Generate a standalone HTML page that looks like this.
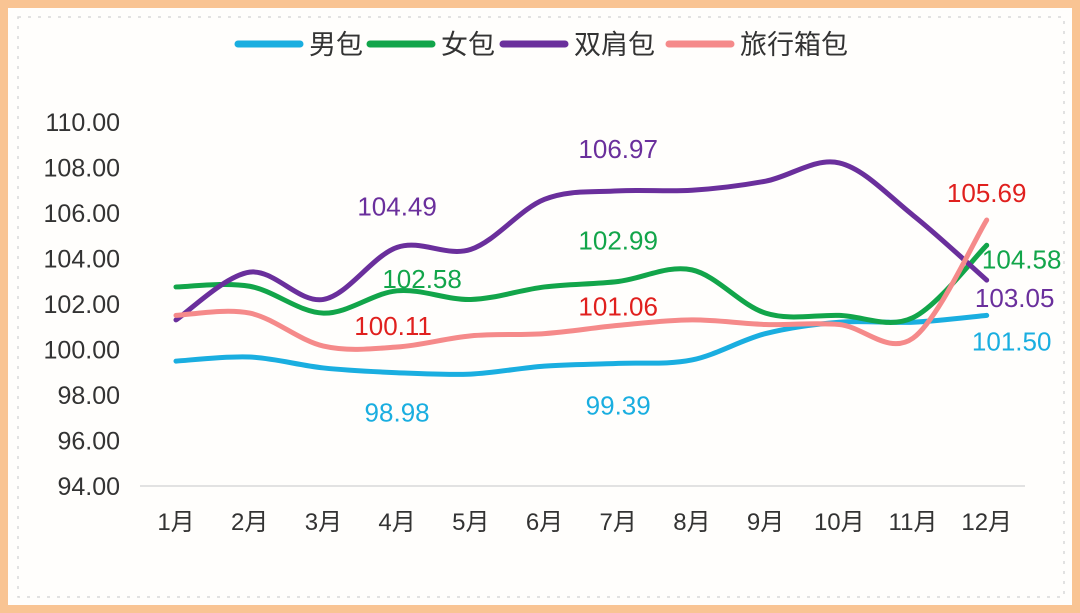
<!DOCTYPE html>
<html><head><meta charset="utf-8"><style>
body{margin:0;width:1080px;height:613px;overflow:hidden;background:#fff}
svg{display:block;font-family:"Liberation Sans","Noto Sans CJK SC",sans-serif}
</style></head><body>
<svg id="c" width="1080" height="613">
<rect x="4" y="4" width="1072" height="605" fill="#fffefc" stroke="#f9c493" stroke-width="8"/>
<rect x="18" y="17" width="1046" height="580" fill="none" stroke="#d9d9d9" stroke-width="1.5" stroke-dasharray="3,7"/>
<g id="axes"></g><g id="series"></g><g id="legend"></g>
</svg>
<script>
const categories=["1月","2月","3月","4月","5月","6月","7月","8月","9月","10月","11月","12月"];
const yTicks=[94,96,98,100,102,104,106,108,110];
const seriesNames=["男包","女包","双肩包","旅行箱包"];
const menBag=[99.49,99.67,99.19,98.98,98.92,99.27,99.39,99.54,100.7,101.2,101.2,101.5];
const womenBag=[102.75,102.78,101.6,102.58,102.2,102.75,102.99,103.5,101.6,101.5,101.4,104.58];
const backpack=[101.3,103.4,102.2,104.49,104.4,106.6,106.97,107.0,107.4,108.2,105.9,103.05];
const luggage=[101.5,101.6,100.15,100.11,100.6,100.7,101.06,101.3,101.1,101.1,100.5,105.69];
const colors=["#1aaee0","#12a54a","#6a2f9c","#f58a8a"];
const labelColors=["#1aaee0","#12a54a","#6a2f9c","#e0201e"];
const labelIdx=[3,6,11];
const labelOff=[[[0,49],[0,51],[25,35]],[[25,-3],[0,-32],[35,23]],[[0,-32],[0,-33],[28,27]],[[-4,-12],[0,-10],[0,-18]]];
const NS="http://www.w3.org/2000/svg";
const x=i=>176+i*73.7;
const y=v=>486-(v-94)*22.75;
function mk(t,a,p){const e=document.createElementNS(NS,t);for(const k in a)e.setAttribute(k,a[k]);p.appendChild(e);return e;}
const ax=document.getElementById('axes');
const base=mk('line',{x1:140,x2:1025,y1:486,y2:486,stroke:'#d9d9d9','stroke-width':1.5},ax);


yTicks.forEach(t=>{const e=mk('text',{x:120,y:y(t)+9,'text-anchor':'end','font-size':25,fill:'#333'},ax);e.textContent=t.toFixed(2);

});
categories.forEach((c,i)=>{const e=mk('text',{x:x(i),y:530,'text-anchor':'middle','font-size':24,fill:'#333'},ax);e.textContent=c;

});
const data=[menBag,womenBag,backpack,luggage];
const sg=document.getElementById('series');
function path(vals){const p=vals.map((v,i)=>[x(i),y(v)]);let d=`M${p[0][0]},${p[0][1]}`;
for(let i=0;i<p.length-1;i++){const p0=p[i-1]||p[i],p1=p[i],p2=p[i+1],p3=p[i+2]||p2;
d+=` C${p1[0]+(p2[0]-p0[0])/6},${p1[1]+(p2[1]-p0[1])/6} ${p2[0]-(p3[0]-p1[0])/6},${p2[1]-(p3[1]-p1[1])/6} ${p2[0]},${p2[1]}`;}return d;}
data.forEach((vals,s)=>{const l=mk('path',{d:path(vals),fill:'none',stroke:colors[s],'stroke-width':5,'stroke-linecap':'round'},sg);

});
data.forEach((vals,s)=>{labelIdx.forEach((i,k)=>{const o=labelOff[s][k];
const t=mk('text',{x:x(i)+o[0],y:y(vals[i])+o[1],'text-anchor':'middle','font-size':26,fill:labelColors[s]},sg);
t.textContent=vals[i].toFixed(2);

});});
const lg=document.getElementById('legend');
const lx=[238,370,503,669];
seriesNames.forEach((n,s)=>{const g=mk('g',{},lg);


mk('line',{x1:lx[s],x2:lx[s]+62,y1:44,y2:44,stroke:colors[s],'stroke-width':7,'stroke-linecap':'round'},g);
const t=mk('text',{x:lx[s]+71,y:54,'font-size':27,fill:'#333'},g);t.textContent=n;});
</script>
</body></html>
